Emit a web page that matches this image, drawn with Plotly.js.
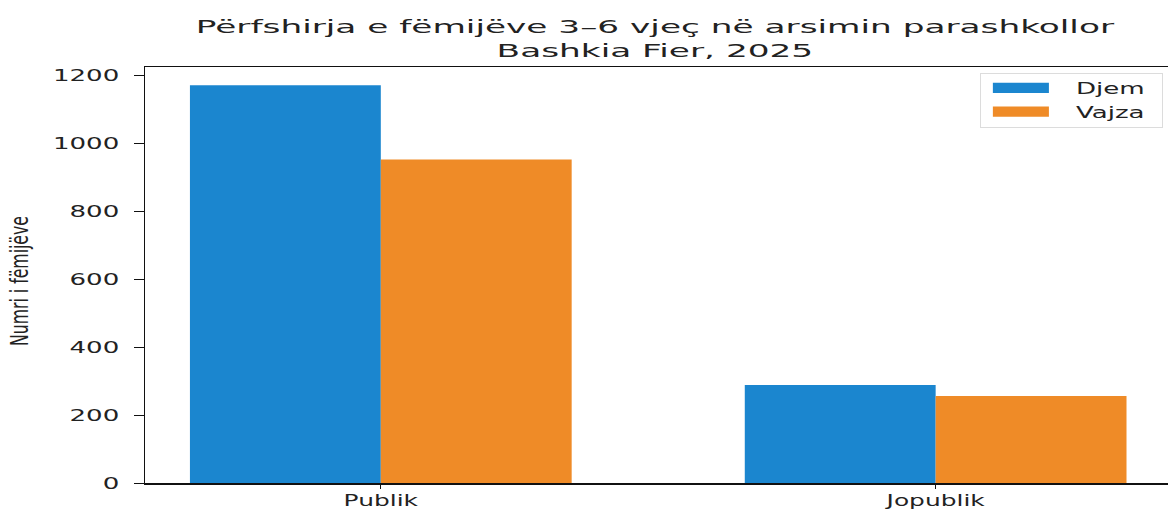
<!DOCTYPE html>
<html>
<head>
<meta charset="utf-8">
<script src="https://cdn.plot.ly/plotly-3.0.1.min.js"></script>
<style>
  html, body { margin: 0; padding: 0; overflow: hidden; background: #fff; }
  #chart { width: 1180px; height: 509px; }
</style>
</head>
<body>
<div id="chart"></div>
<script>
const categories = ["Publik", "Jopublik"];
const djem = [1170, 288];
const vajza = [952, 256];
const yTicks = [0, 200, 400, 600, 800, 1000, 1200];
const seriesNames = ["Djem", "Vajza"];
const titleText = "Përfshirja e fëmijëve 3–6 vjeç në arsimin parashkollor<br>Bashkia Fier, 2025";
const yTitle = "Numri i fëmijëve";

const traces = [
  { type: "bar", name: seriesNames[0], x: categories, y: djem,
    marker: { color: "#1b86cf", line: { width: 0 } } },
  { type: "bar", name: seriesNames[1], x: categories, y: vajza,
    marker: { color: "#ef8b27", line: { width: 0 } } }
];

const layout = {
  width: 1180, height: 509,
  margin: { l: 145, r: 3, t: 67, b: 26 },
  paper_bgcolor: "#fff", plot_bgcolor: "#fff",
  font: { family: "DejaVu Sans, sans-serif", color: "#222" },
  title: {
    text: titleText,
    font: { size: 18, color: "#222" },
    x: 0.555, xanchor: "center"
  },
  barmode: "group", bargap: 0.312, bargroupgap: 0,
  xaxis: {
    type: "category", range: [-0.425, 1.435],
    showline: true, linecolor: "#111", linewidth: 1.5, mirror: true,
    ticks: "outside", ticklen: 4, tickcolor: "#111", ticklabelstandoff: 0,
    tickfont: { size: 15, color: "#222" }, showgrid: false
  },
  yaxis: {
    range: [0, 1224], tickvals: yTicks,
    showline: true, linecolor: "#111", linewidth: 1.5, mirror: true,
    ticks: "outside", ticklen: 10, tickcolor: "#111", ticklabelstandoff: 11,
    tickfont: { size: 16, color: "#222" }, showgrid: false, zeroline: false,
    title: { text: yTitle, standoff: 43,
      font: { family: "Liberation Sans Narrow, DejaVu Sans Condensed, sans-serif", size: 25, color: "#222" } }
  },
  showlegend: true,
  legend: {
    x: 0.809, xanchor: "left", y: 0.9856, yanchor: "top",
    bgcolor: "#fff", bordercolor: "#dcdcdc", borderwidth: 1,
    font: { size: 16, color: "#222" }, itemwidth: 85
  }
};

function stretchX(el, s) {
  const x = parseFloat(el.getAttribute("x")) || 0;
  const t = el.getAttribute("transform") || "";
  el.setAttribute("transform", t + " translate(" + x + ",0) scale(" + s + ",1) translate(" + (-x) + ",0)");
}

Plotly.newPlot("chart", traces, layout, { displayModeBar: false, staticPlot: true }).then(function (gd) {
  gd.querySelectorAll(".ytick text").forEach(function (el) { stretchX(el, 1.63); });
  gd.querySelectorAll(".xtick text").forEach(function (el) { stretchX(el, 1.66); });

  const title = gd.querySelector(".gtitle");
  if (title) {
    const w = title.getBBox().width;
    stretchX(title, 920 / w);
  }

  const yt = gd.querySelector(".ytitle");
  if (yt) {
    const x = parseFloat(yt.getAttribute("x")), y = parseFloat(yt.getAttribute("y"));
    const len = yt.getBBox().width;
    const s = 130 / len;
    const t = yt.getAttribute("transform") || "";
    yt.setAttribute("transform", "translate(0,6) " + t + " translate(" + x + "," + y + ") scale(" + s + ",1) translate(" + (-x) + "," + (-y) + ")");
  }

  gd.querySelectorAll(".legend .legendtext").forEach(function (el) { stretchX(el, 1.63); });
  gd.querySelectorAll(".legend .legendpoints path").forEach(function (el) {
    el.setAttribute("transform", "translate(40,0) scale(4.67,0.85)");
  });
  gd.querySelectorAll(".legend .scrollbox").forEach(function (el) {
    const t = el.getAttribute("transform") || "";
    el.setAttribute("transform", t + " translate(0,-3)");
  });
  const legW = 182, legH = 54;
  gd.querySelectorAll(".legend rect.bg").forEach(function (el) {
    el.setAttribute("width", legW); el.setAttribute("height", legH);
  });
  document.querySelectorAll("clipPath[id^='legend'] rect").forEach(function (el) { el.setAttribute("width", legW); });
});
</script>
</body>
</html>
